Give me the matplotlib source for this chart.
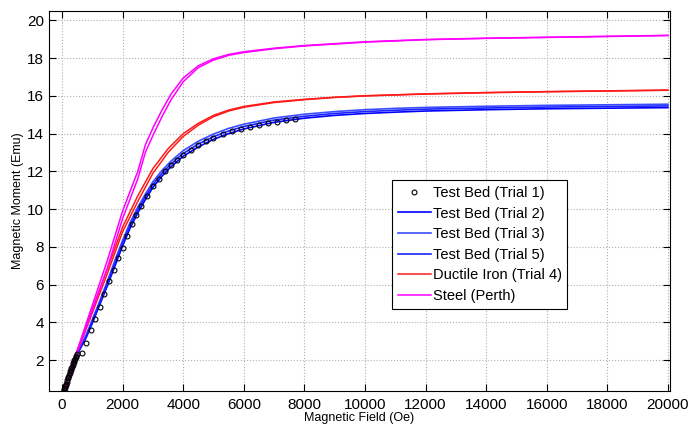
import matplotlib.pyplot as plt

plt.rcParams['font.family'] = ['Liberation Sans', 'DejaVu Sans']

# Test Bed (Trial 1) - circles
t1_x = [40, 55, 70, 85, 100, 115, 130, 150, 170, 190, 210, 230, 250, 270, 290, 310, 330,
        350, 370, 390, 410, 430, 450, 470, 490,
        650, 800, 950, 1100, 1250, 1400, 1550, 1700, 1850, 2000, 2150, 2300, 2450, 2600,
        2800, 3000, 3200, 3400, 3600, 3800, 4000, 4250, 4500, 4750, 5000, 5300, 5600,
        5900, 6200, 6500, 6800, 7100, 7400, 7700]
t1_y = [0.3, 0.37, 0.45, 0.52, 0.6, 0.67, 0.75, 0.85, 0.95, 1.03, 1.12, 1.2, 1.3, 1.4, 1.48,
        1.57, 1.65, 1.73, 1.82, 1.9, 1.98, 2.07, 2.15, 2.22, 2.3,
        2.4, 2.9, 3.6, 4.2, 4.8, 5.5, 6.2, 6.8, 7.4, 7.95, 8.6, 9.2, 9.7, 10.15,
        10.7, 11.2, 11.6, 12.0, 12.35, 12.6, 12.85, 13.15, 13.4, 13.6, 13.78, 13.98, 14.12,
        14.25, 14.37, 14.47, 14.55, 14.62, 14.7, 14.76]

# Test Bed trials 2, 3, 5 (blue lines)
tb_x = [40, 500, 800, 1000, 1250, 1500, 1750, 2000, 2250, 2500, 2750, 3000, 3300, 3600,
        4000, 4500, 5000, 5500, 6000, 7000, 8000, 9000, 10000, 11000, 12000, 14000, 16000,
        18000, 20000]
t2_y = [0.3, 2.3, 3.2, 3.95, 4.95, 5.95, 7.0, 8.05, 9.0, 9.8, 10.5, 11.15, 11.75, 12.25,
        12.8, 13.3, 13.7, 14.0, 14.25, 14.6, 14.82, 14.97, 15.07, 15.14, 15.2, 15.27, 15.32,
        15.35, 15.38]
t3_y = [0.3, 2.3, 3.35, 4.15, 5.15, 6.2, 7.3, 8.35, 9.3, 10.1, 10.8, 11.45, 12.05, 12.55,
        13.1, 13.6, 13.98, 14.28, 14.5, 14.83, 15.03, 15.17, 15.27, 15.34, 15.39, 15.45, 15.5,
        15.53, 15.56]
t5_y = [0.3, 2.3, 3.25, 4.05, 5.05, 6.05, 7.15, 8.2, 9.15, 9.95, 10.65, 11.3, 11.9, 12.4,
        12.95, 13.45, 13.84, 14.14, 14.38, 14.72, 14.92, 15.07, 15.17, 15.24, 15.3, 15.36,
        15.41, 15.44, 15.47]

# Ductile Iron (Trial 4), two branches
di_x = [40, 500, 1000, 1500, 2000, 2500, 3000, 3500, 4000, 4500, 5000, 5500, 6000, 7000,
        8000, 9000, 10000, 12000, 14000, 16000, 18000, 20000]
di_y = [0.3, 2.4, 4.5, 6.6, 8.8, 10.4, 11.9, 13.0, 13.85, 14.45, 14.9, 15.2, 15.4, 15.65,
        15.8, 15.92, 16.0, 16.1, 16.17, 16.22, 16.26, 16.3]
di2_y = [0.3, 2.5, 4.7, 6.85, 9.05, 10.7, 12.15, 13.2, 14.0, 14.55, 14.97, 15.25, 15.44,
         15.68, 15.82, 15.93, 16.01, 16.11, 16.18, 16.23, 16.27, 16.31]

# Steel (Perth), two branches
st_x = [40, 500, 1000, 1500, 2000, 2500, 2750, 3000, 3300, 3600, 4000, 4500, 5000, 5500,
        6000, 7000, 8000, 10000, 12000, 14000, 16000, 18000, 20000]
st_y = [0.3, 2.4, 4.6, 6.9, 9.5, 11.6, 13.0, 13.9, 14.9, 15.8, 16.75, 17.5, 17.9, 18.15,
        18.3, 18.5, 18.65, 18.85, 18.98, 19.05, 19.1, 19.15, 19.2]
st2_y = [0.3, 2.5, 4.9, 7.3, 9.9, 12.0, 13.4, 14.3, 15.25, 16.1, 16.95, 17.6, 17.97, 18.2,
         18.34, 18.53, 18.67, 18.87, 18.99, 19.06, 19.11, 19.16, 19.21]

fig = plt.figure(figsize=(6.91, 4.24), dpi=100)
ax = fig.add_axes([0.0709, 0.0778, 0.8987, 0.8962])

ax.plot(t1_x, t1_y, 'o', mfc='none', mec='black', ms=3.5, mew=0.8,
        label='Test Bed (Trial 1)', zorder=3)
ax.plot(tb_x, t2_y, color='#0000ff', lw=1.2, label='Test Bed (Trial 2)')
ax.plot(tb_x, t3_y, color='#3a4cff', lw=1.2, label='Test Bed (Trial 3)')
ax.plot(tb_x, t5_y, color='#1a22ff', lw=1.2, label='Test Bed (Trial 5)')
ax.plot(di_x, di_y, color='#ff1a1a', lw=1.1, label='Ductile Iron (Trial 4)')
ax.plot(di_x, di2_y, color='#ff1a1a', lw=1.1)
ax.plot(st_x, st_y, color='#ff00ff', lw=1.1, label='Steel (Perth)')
ax.plot(st_x, st2_y, color='#ff00ff', lw=1.1)

ax.set_xlim(-430, 20070)
ax.set_ylim(0.36, 20.5)
ax.set_xticks(range(0, 20001, 2000))
ax.set_yticks(range(2, 21, 2))
ax.tick_params(direction='in', top=True, right=True, labelsize=11, length=5)
ax.tick_params(axis='x', pad=5)
ax.grid(True, linestyle=':', color='#b0b0b0', linewidth=0.8)
ax.set_xlabel('Magnetic Field (Oe)', fontsize=9, labelpad=0)
ax.set_ylabel('Magnetic Moment (Emu)', fontsize=9, labelpad=2)

leg = ax.legend(loc='upper left', bbox_to_anchor=(0.552, 0.555), fontsize=10.5,
                fancybox=False, edgecolor='black', framealpha=1, borderaxespad=0,
                handlelength=2.3, handletextpad=0.1, labelspacing=0.45,
                borderpad=0.4)
leg.get_frame().set_linewidth(0.8)

fig.savefig('out.png', dpi=100)
